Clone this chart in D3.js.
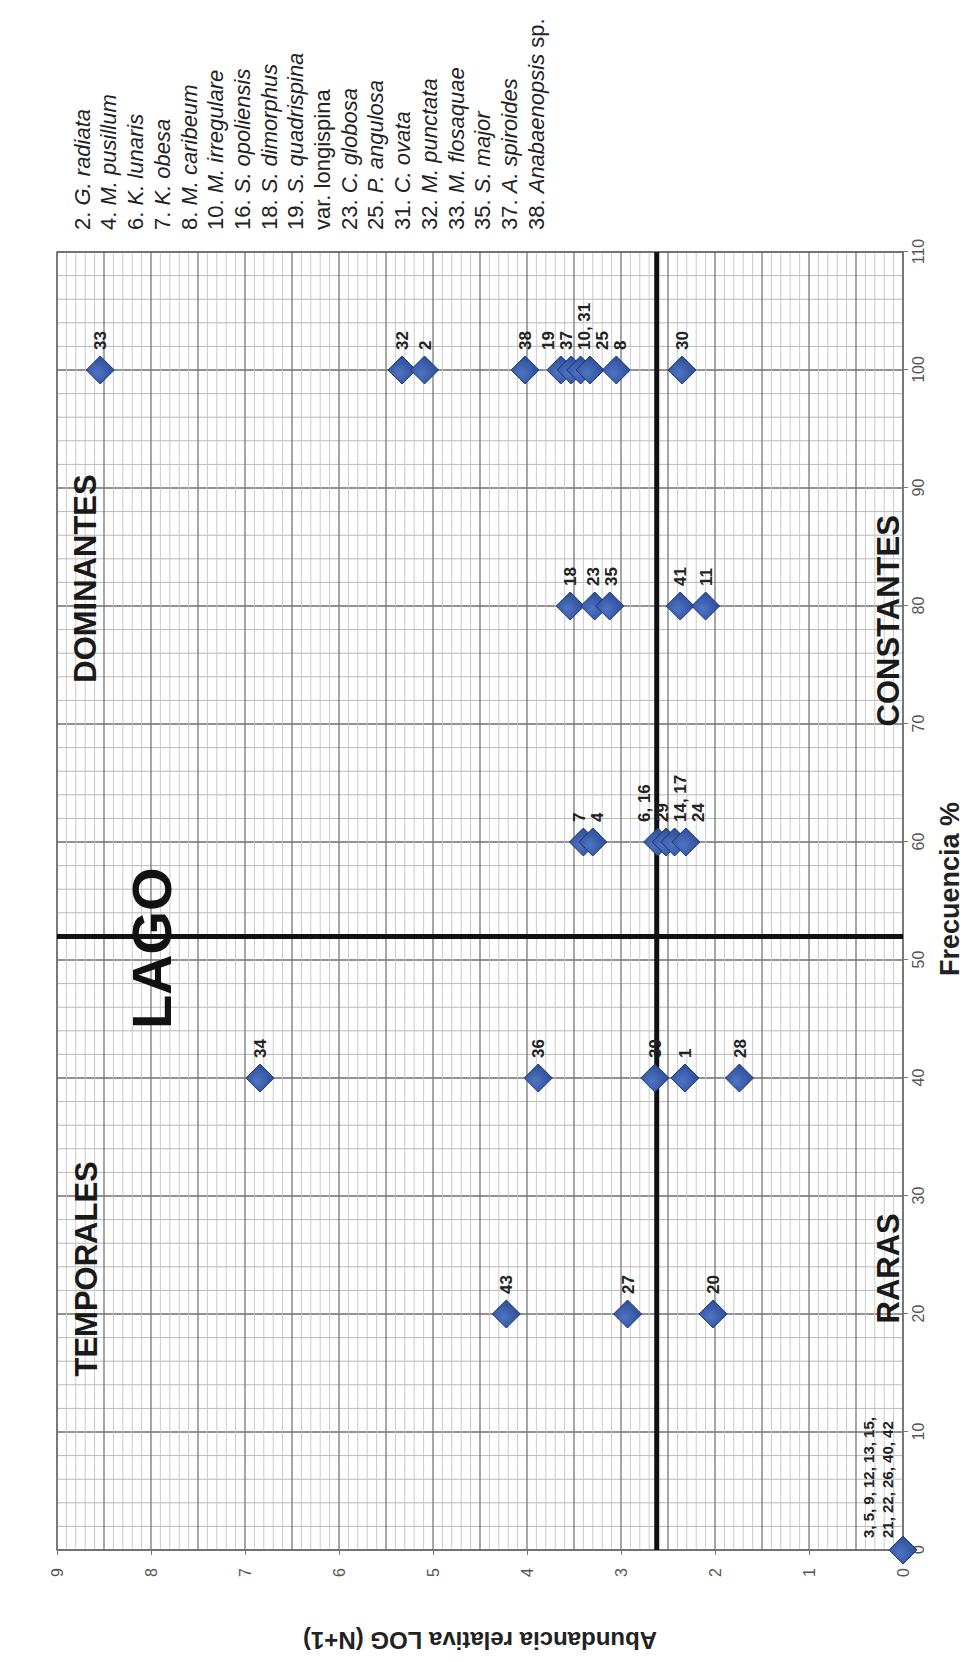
<!DOCTYPE html>
<html><head><meta charset="utf-8">
<script src="https://cdn.jsdelivr.net/npm/d3@7"></script>
<style>
body{margin:0;background:#fff}
svg{display:block;background:#fff}
text{font-family:"Liberation Sans",Arial,Helvetica,sans-serif}
</style>
</head><body>
<svg id="chart" width="978" height="1662"></svg>
<script>
// ---------------- data ----------------
const chartTitle = "LAGO";
const xTitle = "Frecuencia %";
const yTitle = "Abundancia relativa LOG (N+1)";
const freqTicks = [0,10,20,30,40,50,60,70,80,90,100,110];
const abundTicks = [0,1,2,3,4,5,6,7,8,9];
const freqThreshold = 52;
const abundThreshold = 2.62;

const pointLabels = ["33","32","2","38","19","37","10, 31","25","8","30",
  "18","23","35","41","11",
  "7","4","6, 16","29","14, 17","24",
  "34","36","39","1","28",
  "43","27","20",
  "3, 5, 9, 12, 13, 15,|21, 22, 26, 40, 42"];
const pointFreq = [100,100,100,100,100,100,100,100,100,100,
  80,80,80,80,80,
  60,60,60,60,60,60,
  40,40,40,40,40,
  20,20,20,
  0];
const pointAbund = [8.54,5.33,5.09,4.02,3.64,3.53,3.43,3.33,3.05,2.35,
  3.54,3.28,3.12,2.37,2.10,
  3.40,3.30,2.61,2.52,2.43,2.31,
  6.84,3.88,2.64,2.32,1.74,
  4.22,2.93,2.02,
  0];

const quadrantNames = ["TEMPORALES","DOMINANTES","RARAS","CONSTANTES"];
const quadrantFreq = [14.7, 73.5, 19.2, 69.8];      // where each name starts
const quadrantAbund = [8.69, 8.70, 0.16, 0.16];     // centre line of each name

const speciesNum = ["2.","4.","6.","7.","8.","10.","16.","18.","19.","","23.","25.","31.","32.","33.","35.","37.","38."];
const speciesGenus = ["G.","M.","K.","K.","M.","M.","S.","S.","S.","var.","C.","P.","C.","M.","M.","S.","A.",""];
const speciesName = ["radiata","pusillum","lunaris","obesa","caribeum","irregulare","opoliensis","dimorphus","quadrispina","longispina","globosa","angulosa","ovata","punctata","flosaquae","major","spiroides","Anabaenopsis sp."];

// ---------------- layout (landscape, then rotated) ----------------
const PW = 978, PH = 1662;
const svg = d3.select("#chart");
const g = svg.append("g").attr("transform", `translate(0,${PH}) rotate(-90)`);
const x = d3.scaleLinear().domain([0,110]).range([112,1410]);
const y = d3.scaleLinear().domain([0,9]).range([903,57]);

// grid
const grid = g.append("g");
x.ticks(55).forEach(v => {
  const major = Math.abs(v % 10) < 1e-6;
  grid.append("line").attr("x1",x(v)).attr("x2",x(v)).attr("y1",y(9)).attr("y2",y(0))
    .attr("stroke", major ? "#6e6e6e" : "#b9b9b9").attr("stroke-width", major ? 1.4 : 1);
});
y.ticks(90).forEach(v => {
  const half = Math.abs(v*2 - Math.round(v*2)) < 1e-6;
  grid.append("line").attr("y1",y(v)).attr("y2",y(v)).attr("x1",x(0)).attr("x2",x(110))
    .attr("stroke", half ? "#777" : "#c4c4c4").attr("stroke-width", half ? 1.3 : 0.9);
});
grid.append("rect").attr("x",x(0)).attr("y",y(9)).attr("width",x(110)-x(0)).attr("height",y(0)-y(9))
  .attr("fill","none").attr("stroke","#666").attr("stroke-width",1.4);

// axes
const xAxis = g.append("g").attr("transform",`translate(0,${y(0)})`)
  .call(d3.axisBottom(x).tickValues(freqTicks).tickSize(5).tickPadding(5));
xAxis.select(".domain").remove();
xAxis.selectAll("line").attr("stroke","#777");
xAxis.selectAll("text").attr("font-size",16).attr("fill","#555");

const yAxis = g.append("g").attr("transform",`translate(${x(0)},0)`)
  .call(d3.axisLeft(y).tickValues(abundTicks).tickSize(5).tickPadding(13));
yAxis.select(".domain").remove();
yAxis.selectAll("line").attr("stroke","#777");
yAxis.selectAll("text").attr("font-size",16).attr("fill","#555");

// thresholds
g.append("line").attr("x1",x(freqThreshold)).attr("x2",x(freqThreshold)).attr("y1",y(9)).attr("y2",y(0))
  .attr("stroke","#111").attr("stroke-width",5);
g.append("line").attr("y1",y(abundThreshold)).attr("y2",y(abundThreshold)).attr("x1",x(0)).attr("x2",x(110))
  .attr("stroke","#111").attr("stroke-width",5);

// axis titles
g.append("text").attr("x",(x(0)+x(110))/2 + 12).attr("y",950).attr("dy","0.35em")
  .attr("text-anchor","middle").attr("font-size",27).attr("font-weight","bold").attr("fill","#222")
  .text(xTitle);
g.append("text").attr("transform",`translate(22,${(y(0)+y(9))/2}) rotate(-90)`).attr("dy","0.35em")
  .attr("text-anchor","middle").attr("font-size",24).attr("font-weight","bold").attr("fill","#222")
  .text(yTitle);

// chart title (top centre of the landscape chart)
g.append("text").attr("x",x(51)).attr("y",y(8.0)).attr("dy","0.35em")
  .attr("text-anchor","middle").attr("font-size",56).attr("font-weight","bold").attr("fill","#111")
  .text(chartTitle);

// quadrant names
quadrantNames.forEach((n,i) => {
  g.append("text").attr("x",x(quadrantFreq[i])).attr("y",y(quadrantAbund[i])).attr("dy","0.36em")
    .attr("font-size",31).attr("font-weight","bold").attr("fill","#1a1a1a").text(n);
});

// species list
const list = g.append("g");
speciesName.forEach((n,i) => {
  const t = list.append("text").attr("x",1432).attr("y",82 + i*26.7).attr("dy","0.35em")
    .attr("font-size",22).attr("fill","#222");
  if (speciesNum[i]) t.append("tspan").text(speciesNum[i] + " ");
  if (speciesGenus[i]) t.append("tspan").attr("font-style", speciesGenus[i]==="var." ? "normal" : "italic").text(speciesGenus[i] + " ");
  if (n.endsWith(" sp.")) {
    t.append("tspan").attr("font-style","italic").text(n.replace(" sp.",""));
    t.append("tspan").text(" sp.");
  } else {
    t.append("tspan").attr("font-style", speciesGenus[i]==="var." ? "normal" : "italic").text(n);
  }
});

// points
const pts = pointLabels.map((l,i) => ({label:l, f:pointFreq[i], a:pointAbund[i]}));
const r = 14;
const diamond = `M0,${-r}L${r},0L0,${r}L${-r},0Z`;
const defs = svg.append("defs");
const grad = defs.append("radialGradient").attr("id","dg").attr("cx","40%").attr("cy","40%").attr("r","70%");
grad.append("stop").attr("offset","0%").attr("stop-color","#4f74c4");
grad.append("stop").attr("offset","100%").attr("stop-color","#27468f");

g.append("g").selectAll("path").data(pts).join("path")
  .attr("d",diamond)
  .attr("transform",d => `translate(${x(d.f)},${y(d.a)})`)
  .attr("fill","url(#dg)").attr("stroke","#1d3775").attr("stroke-width",1);

// labels: spread labels of the same row so they do not overlap
const rows = d3.group(pts.filter(p => p.f > 0), p => p.f);
const gap = 18;
rows.forEach(arr => {
  arr.sort((a,b) => y(a.a) - y(b.a));
  arr.forEach(p => p.ly = y(p.a));
  for (let it=0; it<200; it++) {
    for (let k=1; k<arr.length; k++) {
      const d = arr[k].ly - arr[k-1].ly;
      if (d < gap) { const s = (gap-d)/2; arr[k].ly += s; arr[k-1].ly -= s; }
    }
  }
});
const labG = g.append("g");
pts.forEach(p => {
  if (p.f > 0) {
    labG.append("text").attr("x",x(p.f)+20).attr("y",p.ly).attr("dy","0.36em")
      .attr("font-size",17).attr("font-weight","bold").attr("fill","#222").text(p.label);
  } else {
    const lines = p.label.split("|");
    lines.forEach((ln,k) => {
      labG.append("text").attr("x",x(p.f)+12).attr("y",y(p.a) - 15 - (lines.length-1-k)*19).attr("dy","0.36em")
        .attr("font-size",15).attr("font-weight","bold").attr("fill","#222").text(ln);
    });
  }
});
</script>
</body></html>
